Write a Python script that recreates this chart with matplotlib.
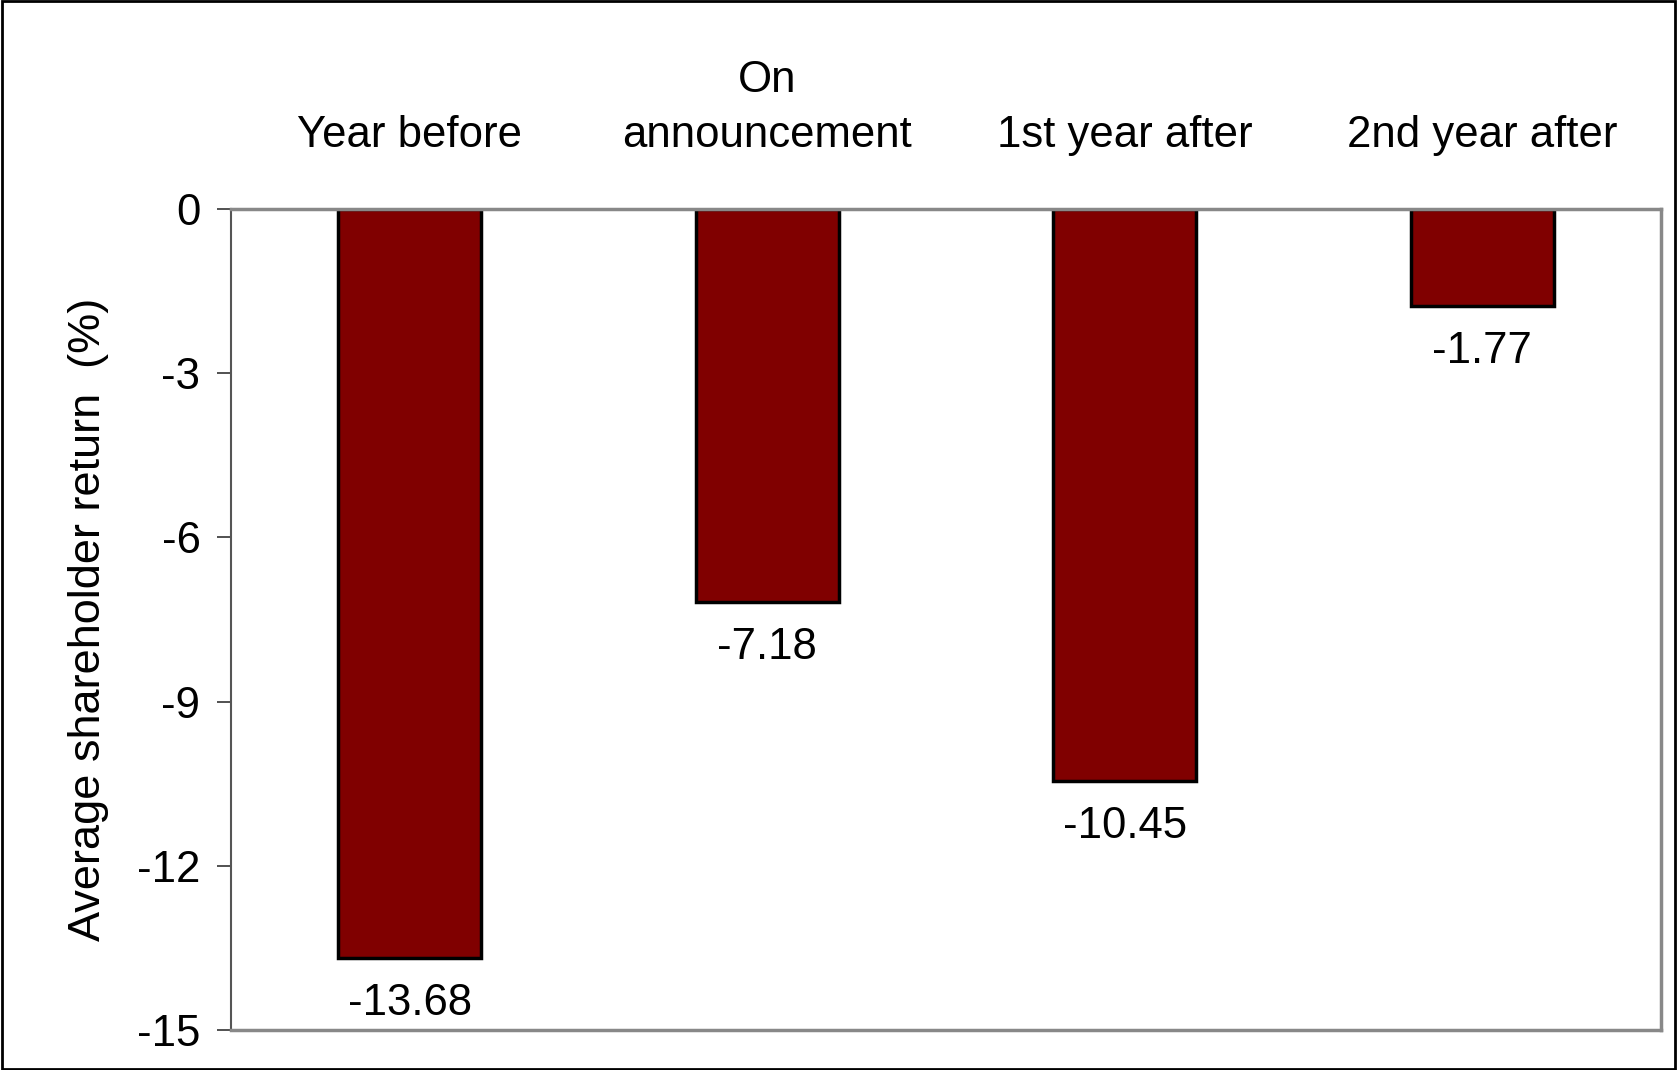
import numpy as np
import matplotlib.pyplot as plt
from matplotlib.patches import Rectangle

plt.rcParams['font.family'] = ['Liberation Sans', 'DejaVu Sans']

periods = ["Year before", "On\nannouncement", "1st year after", "2nd year after"]
returns = [-13.68, -7.18, -10.45, -1.77]
yticks = [0, -3, -6, -9, -12, -15]

fig = plt.figure(figsize=(16.77, 10.70), dpi=100)
ax = fig.add_axes([231/1677, 1 - 1030/1070, (1661-231)/1677, (1030-209)/1070])

x = np.arange(len(periods))
bars = ax.bar(x, returns, width=0.4, color="#800000", edgecolor="black", linewidth=2.5, zorder=2)

for xi, v in zip(x, returns):
    ax.annotate(f"{v:.2f}", (xi, v), xytext=(0, -18), textcoords="offset points",
                ha="center", va="top", fontsize=31.5)

ax.set_xlim(-0.5, len(periods) - 0.5)
ax.set_ylim(-15, 0)
ax.set_yticks(yticks)
ax.set_yticklabels([str(t) for t in yticks], fontsize=31.5)
ax.tick_params(axis="y", length=10, width=1.2, color="#333333", pad=12)

ax.xaxis.tick_top()
ax.set_xticks(x)
ax.set_xticklabels(periods, fontsize=31.5, linespacing=1.45)
ax.tick_params(axis="x", length=0, pad=38)

ax.set_ylabel("Average shareholder return  (%)", fontsize=32.5, labelpad=20)

for side in ["top", "right", "bottom"]:
    ax.spines[side].set_color("#888888")
    ax.spines[side].set_linewidth(2.5)
ax.spines["left"].set_color("#555555")
ax.spines["left"].set_linewidth(1.5)

# thin frame around the whole figure
fig.patches.append(Rectangle((0.001, 0.001), 0.998, 0.998, transform=fig.transFigure,
                             fill=False, edgecolor="black", linewidth=2))

fig.savefig("out.png", dpi=100)
